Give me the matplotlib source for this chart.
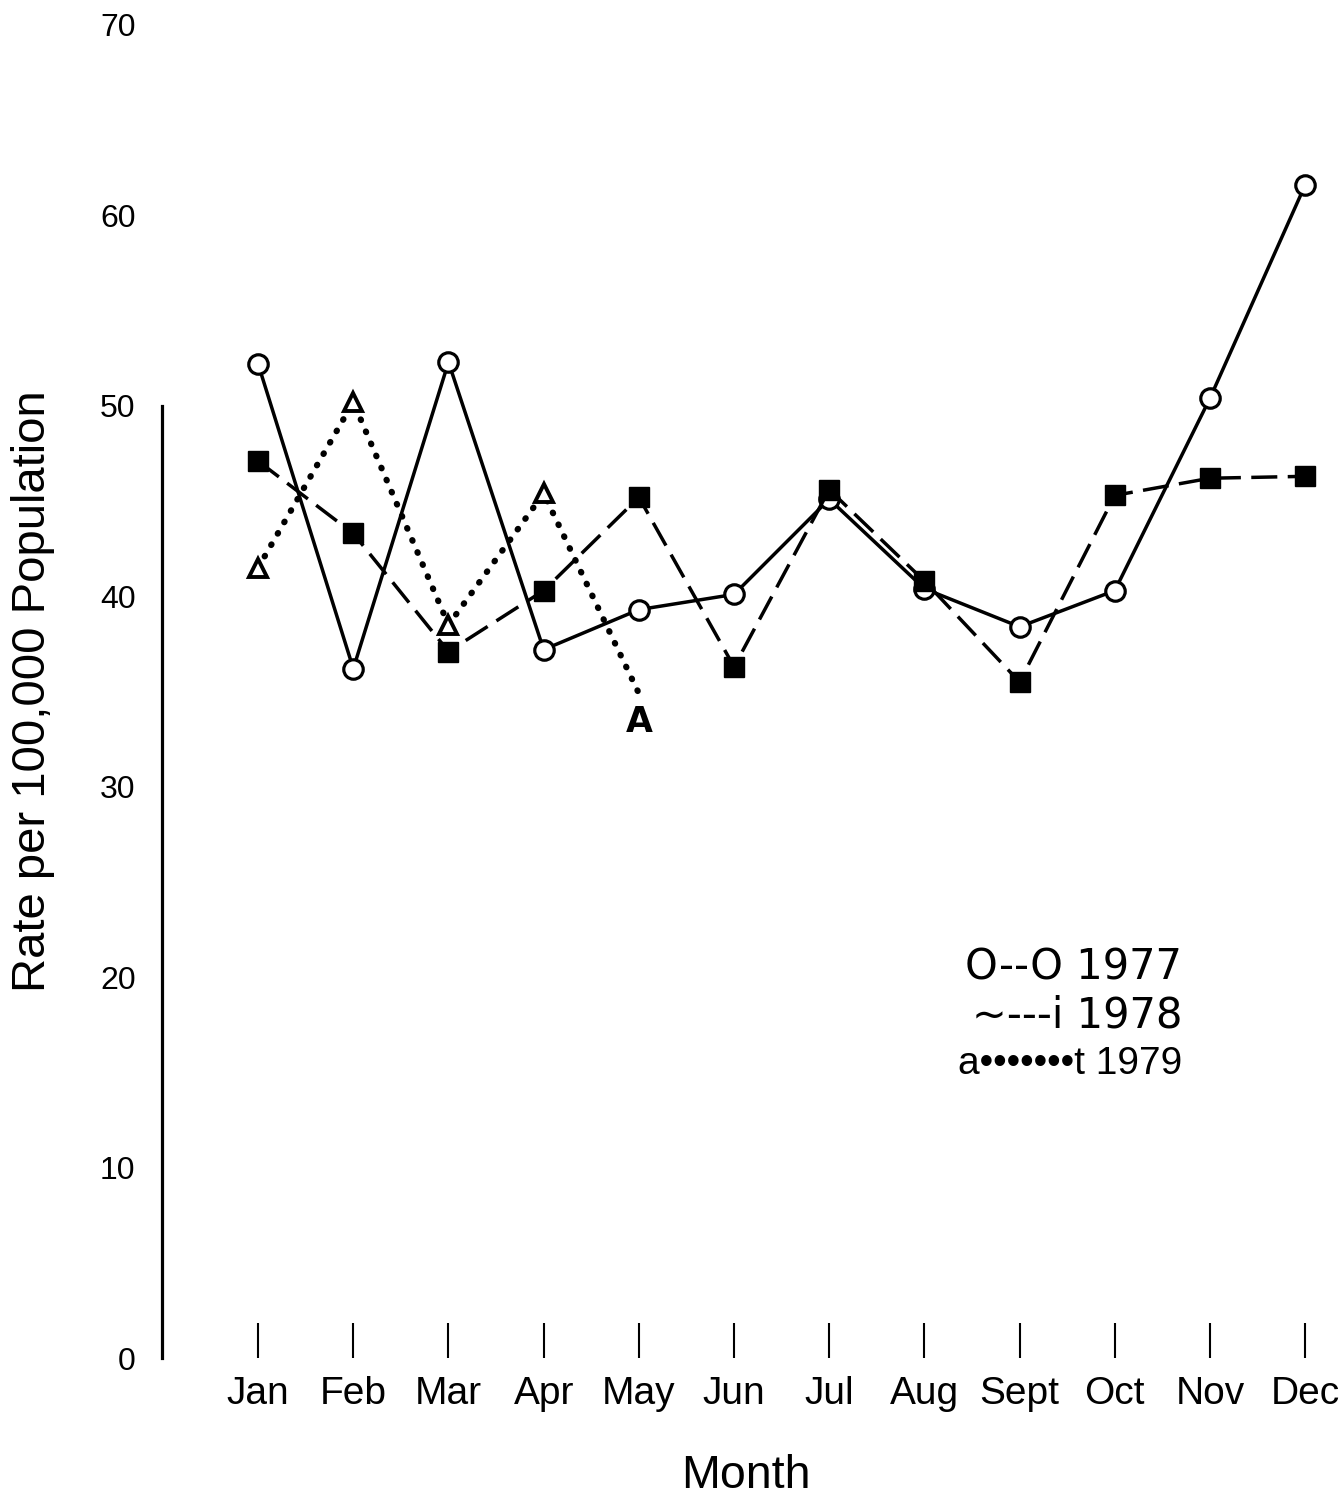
import matplotlib
matplotlib.use("Agg")
import matplotlib.pyplot as plt

# data
months = ["Jan", "Feb", "Mar", "Apr", "May", "Jun", "Jul", "Aug", "Sept", "Oct", "Nov", "Dec"]
rate_1977 = [52.2, 36.2, 52.3, 37.2, 39.3, 40.1, 45.1, 40.4, 38.4, 40.3, 50.4, 61.6]
rate_1978 = [47.1, 43.3, 37.1, 40.3, 45.2, 36.3, 45.6, 40.8, 35.5, 45.3, 46.2, 46.3]
rate_1979 = [41.5, 50.2, 38.5, 45.4, 34.9]
yticks = [0, 10, 20, 30, 40, 50, 60, 70]
legend_lines = ["O--O 1977", "~---i 1978", "a\u2022\u2022\u2022\u2022\u2022\u2022\u2022t 1979"]

plt.rcParams["font.family"] = ["Liberation Sans", "DejaVu Sans"]

fig = plt.figure(figsize=(13.42, 14.96), dpi=100)
ax = fig.add_axes([0.1207, 0.0922, 0.8703, 0.8911])

x = list(range(len(months)))

ax.plot(x, rate_1977, color="black", lw=2.5, ls="-", marker="o", ms=14,
        mfc="white", mec="black", mew=2.3, zorder=3)
ax.plot(x, rate_1978, color="black", lw=2.5, ls=(0, (7.5, 3)), marker="s", ms=15,
        mfc="black", mec="black", zorder=3)
ax.plot(x[:len(rate_1979)], rate_1979, color="black", lw=4.5, ls=(0, (0.1, 2.0)),
        dash_capstyle="round", marker="^", ms=13, mfc="white", mec="black", mew=2.8,
        markevery=[0, 1, 2, 3], zorder=2)
ax.text(x[len(rate_1979) - 1], rate_1979[-1] - 1.5, "A", ha="center", va="center",
        fontsize=25, fontweight="bold", family="DejaVu Sans")

ax.set_xlim(-1.01, 11.26)
ax.set_ylim(0, 70)
ax.set_xticks(x)
ax.set_xticklabels(months, fontsize=28)
ax.set_yticks(yticks)
ax.set_yticklabels([str(v) for v in yticks], fontsize=23)

for s in ["top", "right", "bottom"]:
    ax.spines[s].set_visible(False)
ax.spines["left"].set_bounds(0, 50)
ax.spines["left"].set_linewidth(2.3)
ax.tick_params(axis="y", length=0, pad=19)
ax.tick_params(axis="x", direction="in", length=25, width=1.5, pad=13)

ax.set_ylabel("Rate per 100,000 Population", fontsize=34)
ax.yaxis.set_label_coords(-0.092, 0.5)
ax.set_xlabel("Month", fontsize=33.5, labelpad=30)

for i, t in enumerate(legend_lines):
    fam = "DejaVu Sans" if i < 2 else "Liberation Sans"
    fig.text(1182 / 1342, 1 - (968 + 48 * i) / 1496, t, ha="right", va="center",
             fontsize=30 if i < 2 else 28, family=fam)

fig.savefig("out.png", dpi=100)
